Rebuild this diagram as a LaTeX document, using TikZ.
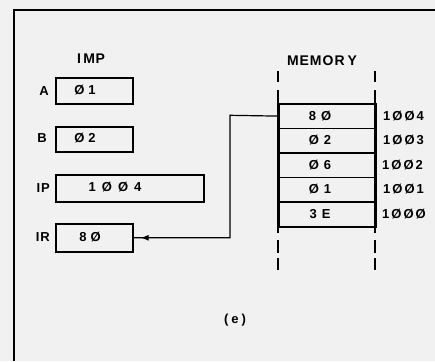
\documentclass[tikz,border=0pt]{standalone}
\usepackage{fontspec}
\setmainfont{Liberation Sans}
\usetikzlibrary{arrows.meta,decorations.markings}
\newcommand\gp[1]{\hspace{#1pt}}
\begin{document}
\begin{tikzpicture}[x=1pt,y=-1pt,
  bg/.style={fill={rgb,255:red,241;green,241;blue,241}},
  thick line/.style={line width=1.6pt},
  reg/.style={draw, line width=1.6pt, inner sep=0pt, anchor=north west, minimum height=26pt},
  memrow/.style={draw, line width=1.6pt, inner sep=0pt, anchor=north west, minimum width=97pt, minimum height=24.6pt},
  lab/.style={font=\fontsize{13}{15}\selectfont\bfseries, inner sep=0pt},
  title/.style={font=\fontsize{14}{16}\selectfont\bfseries, inner sep=0pt},
  conn/.style={line width=1.2pt,
    postaction={decorate},
    decoration={markings, mark=at position -7pt with {\arrow{Latex[length=8pt,width=6pt]}}}}
]
\useasboundingbox[bg] (0,0) rectangle (435,361);
% frame
\draw[thick line] (14,361) -- (14,10) -- (435,10);

% IMP registers
\node[title] (imp) at (91,59) {I\gp{2.5}M\gp{0.5}P};
\node[reg, minimum width=77pt] (ra) at (55,77) {};
\node[reg, minimum width=77pt, minimum height=25pt] (rb) at (55,126) {};
\node[reg, minimum width=148pt, minimum height=27pt] (rip) at (55,174) {};
\node[reg, minimum width=77pt, minimum height=28pt] (rir) at (55,223) {};

\node[lab, anchor=east] (la) at (49,91) {A};
\node[lab, anchor=east] (lb) at (47,138) {B};
\node[lab, anchor=east] (lip) at (50,188) {I\gp{1}P};
\node[lab, anchor=east] (lir) at (50,237) {I\gp{1}R};

\node[lab] (va) at (85,90) {Ø\gp{4}1};
\node[lab] (vb) at (85,138.5) {Ø\gp{4}2};
\node[lab] (vip) at (115,187.5) {1\gp{6}Ø\gp{6}Ø\gp{6}4};
\node[lab] (vir) at (90,237) {8\gp{4}Ø};

% memory
\node[title] (mem) at (322,61) {M\gp{1}E\gp{1}M\gp{1}O\gp{1}R\gp{3}Y};
\node[memrow] (m1) at (278,103) {};
\node[memrow] (m2) at (278,127.6) {};
\node[memrow] (m3) at (278,152.2) {};
\node[memrow] (m4) at (278,176.8) {};
\node[memrow] (m5) at (278,201.4) {};

\foreach \x in {278,375} {
  \draw[thick line] (\x,90) -- (\x,233);
  \draw[thick line] (\x,71) -- (\x,82);
  \draw[thick line] (\x,240) -- (\x,253);
  \draw[thick line] (\x,258) -- (\x,270);
}

\node[lab] (c1) at (320,116) {8\gp{5}Ø};
\node[lab] (c2) at (320,140) {Ø\gp{5}2};
\node[lab] (c3) at (320,165) {Ø\gp{5}6};
\node[lab] (c4) at (320,189) {Ø\gp{5}1};
\node[lab] (c5) at (320,214.5) {3\gp{5}E};

\node[lab, anchor=west] (a1) at (383,116) {1\gp{2}Ø\gp{2}Ø\gp{2}4};
\node[lab, anchor=west] (a2) at (383,140) {1\gp{2}Ø\gp{2}Ø\gp{2}3};
\node[lab, anchor=west] (a3) at (382,165) {1\gp{2}Ø\gp{2}Ø\gp{2}2};
\node[lab, anchor=west] (a4) at (383,189) {1\gp{2}Ø\gp{2}Ø\gp{2}1};
\node[lab, anchor=west] (a5) at (382,214.5) {1\gp{2}Ø\gp{2}Ø\gp{2}Ø};

% connector
\coordinate (bend) at (230,115.3);
\draw[conn] (m1.west) -- (bend) |- (rir.east);

\node[lab] (cap) at (235,320) {(\gp{3}e\gp{3})};
\end{tikzpicture}
\end{document}
